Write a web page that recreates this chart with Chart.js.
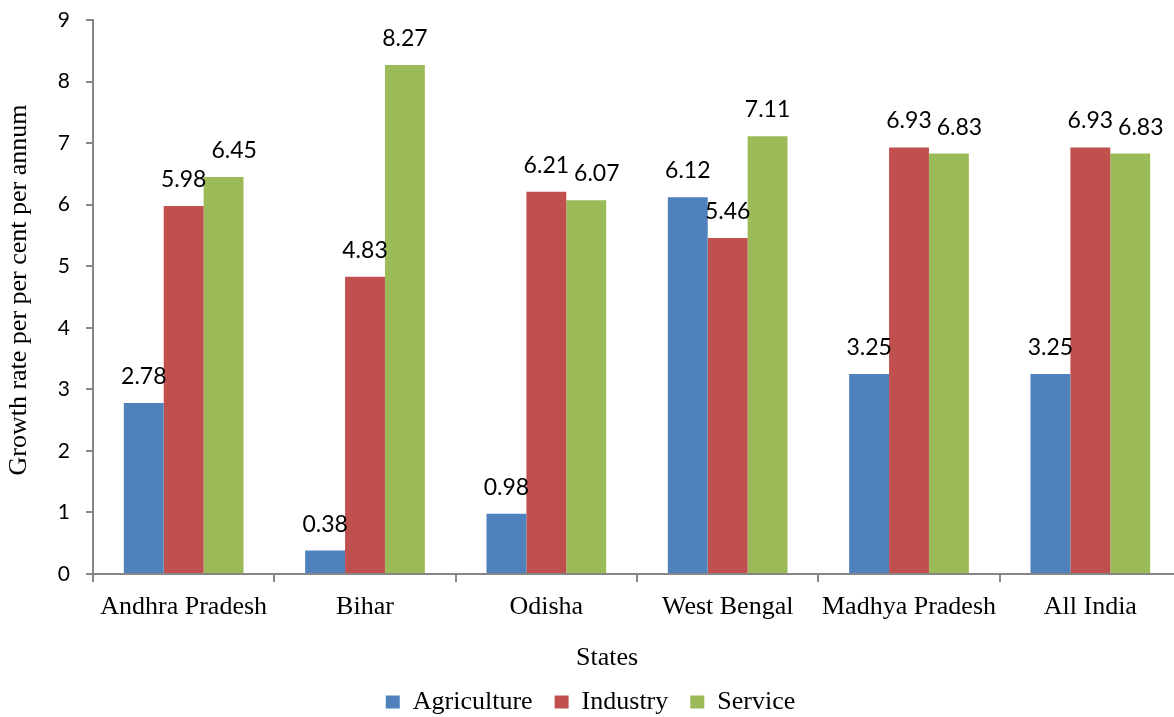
<!DOCTYPE html>
<html>
<head>
<meta charset="utf-8">
<script src="https://cdn.jsdelivr.net/npm/chart.js@4/dist/chart.umd.min.js"></script>
<style>
	html, body { margin: 0; padding: 0; background: #fff; overflow: hidden; }
	#wrap { width: 1181px; height: 717px; }
</style>
</head>
<body>
<div id="wrap"><canvas id="chart"></canvas></div>
<script>
const states = ['Andhra Pradesh', 'Bihar', 'Odisha', 'West Bengal', 'Madhya Pradesh', 'All India'];
const agriculture = [2.78, 0.38, 0.98, 6.12, 3.25, 3.25];
const industry = [5.98, 4.83, 6.21, 5.46, 6.93, 6.93];
const service = [6.45, 8.27, 6.07, 7.11, 6.83, 6.83];
const yTicks = [0, 1, 2, 3, 4, 5, 6, 7, 8, 9];

const axisGrey = '#868686';
const serif = 'Liberation Serif';
const sans = 'Lato';

// value labels above the bars, nudged right when they would crowd the neighbour
const valueLabels = {
	id: 'valueLabels',
	afterDatasetsDraw(chart) {
		const ctx = chart.ctx;
		ctx.save();
		ctx.font = `23px ${sans}`;
		ctx.fillStyle = '#000';
		ctx.textAlign = 'left';
		ctx.textBaseline = 'alphabetic';
		states.forEach((s, i) => {
			let prev = null;
			chart.data.datasets.forEach((ds, d) => {
				const bar = chart.getDatasetMeta(d).data[i];
				const text = ds.data[i].toFixed(2);
				const w = ctx.measureText(text).width;
				const base = bar.y - 19;
				let left = bar.x - w / 2;
				const rect = { top: base - 16, bottom: base };
				if (prev) {
					const gap = Math.max(rect.top - prev.bottom, prev.top - rect.bottom);
					if (left < prev.right && gap < 20) left = prev.right + 5;
				}
				ctx.fillText(text, left, base);
				prev = { left: left, right: left + w, top: rect.top, bottom: rect.bottom };
			});
		});
		ctx.restore();
	}
};

// axis titles
const axisTitles = {
	id: 'axisTitles',
	afterDraw(chart) {
		const ctx = chart.ctx;
		ctx.save();
		ctx.font = `26px ${serif}`;
		ctx.fillStyle = '#000';
		ctx.textAlign = 'center';
		ctx.textBaseline = 'middle';
		ctx.fillText('States', 607, 658);
		ctx.translate(19, 290);
		ctx.rotate(-Math.PI / 2);
		ctx.fillText('Growth rate per per cent per annum', 0, 0);
		ctx.restore();
	}
};

new Chart(document.getElementById('chart'), {
	type: 'bar',
	data: {
		labels: states,
		datasets: [
			{
				label: 'Agriculture',
				data: agriculture,
				backgroundColor: '#4F81BD',
				borderColor: '#4F81BD',
				borderWidth: 0
			},
			{
				label: 'Industry',
				data: industry,
				backgroundColor: '#C0504D',
				borderColor: '#C0504D',
				borderWidth: 0
			},
			{
				label: 'Service',
				data: service,
				backgroundColor: '#9BBB59',
				borderColor: '#9BBB59',
				borderWidth: 0
			}
		]
	},
	options: {
		responsive: true,
		maintainAspectRatio: false,
		animation: false,
		categoryPercentage: 0.66,
		barPercentage: 1,
		layout: {
			padding: { top: 20, right: 0, bottom: -8, left: 0 }
		},
		plugins: {
			legend: {
				position: 'bottom',
				labels: {
					boxWidth: 14,
					boxHeight: 13,
					padding: 22,
					color: '#000',
					font: { family: serif, size: 26 }
				}
			},
			tooltip: { enabled: false }
		},
		scales: {
			x: {
				grid: {
					drawOnChartArea: false,
					tickLength: 8,
					color: axisGrey,
					lineWidth: 2
				},
				border: { color: axisGrey, width: 2 },
				ticks: {
					color: '#000',
					padding: 10,
					maxRotation: 0,
					autoSkip: false,
					font: { family: serif, size: 26 }
				},
				afterFit: (axis) => {
					axis.height = 93;
					axis.paddingLeft = 0;
					axis.paddingRight = 0;
				}
			},
			y: {
				min: 0,
				max: 9,
				afterBuildTicks: (axis) => {
					axis.ticks = yTicks.map((v) => ({ value: v }));
				},
				grid: {
					drawOnChartArea: false,
					tickLength: 7,
					color: axisGrey,
					lineWidth: 2
				},
				border: { color: axisGrey, width: 2 },
				ticks: {
					color: '#000',
					padding: 16,
					font: { family: sans, size: 21 }
				},
				afterFit: (axis) => {
					axis.width = 93;
					axis.paddingTop = 0;
					axis.paddingBottom = 0;
				}
			}
		}
	},
	plugins: [valueLabels, axisTitles]
});
</script>
</body>
</html>
